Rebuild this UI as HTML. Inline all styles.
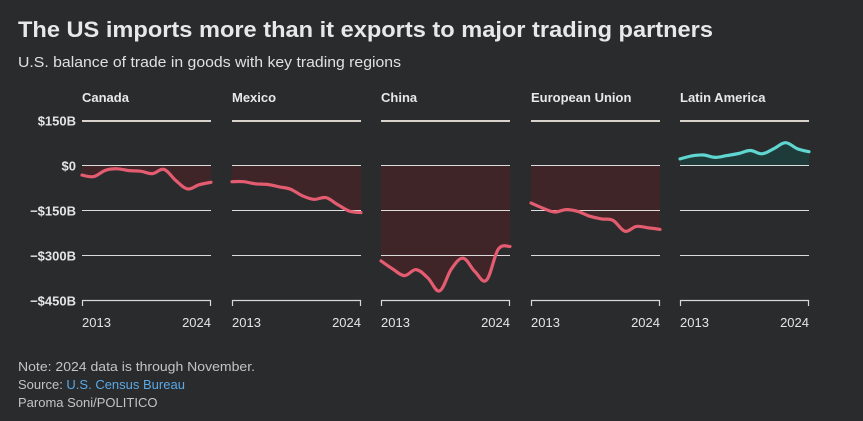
<!DOCTYPE html>
<html><head><meta charset="utf-8"><style>
html,body{margin:0;padding:0;background:#2a2b2d;}
svg{display:block;font-family:"Liberation Sans",sans-serif;}
</style></head><body>
<svg id="chart" width="863" height="421" viewBox="0 0 863 421" xmlns="http://www.w3.org/2000/svg">
<rect width="863" height="421" fill="#2a2b2d"/>
<text x="18" y="37" font-size="22" font-weight="bold" fill="#e8e8e8" textLength="695" lengthAdjust="spacingAndGlyphs">The US imports more than it exports to major trading partners</text>
<text x="18" y="67" font-size="15" fill="#e0e0e0" textLength="383" lengthAdjust="spacingAndGlyphs">U.S. balance of trade in goods with key trading regions</text>
<g id="panels"></g>
<text x="18" y="371" font-size="13" fill="#c4c4c4" textLength="237" lengthAdjust="spacingAndGlyphs">Note: 2024 data is through November.</text>
<text x="18" y="389" font-size="13" fill="#c4c4c4">Source: <tspan fill="#5aa9e6">U.S. Census Bureau</tspan></text>
<text x="18" y="407" font-size="13" fill="#c4c4c4">Paroma Soni/POLITICO</text>
</svg>
<script>
const years = [2013,2014,2015,2016,2017,2018,2019,2020,2021,2022,2023,2024];
const regions = ["Canada","Mexico","China","European Union","Latin America"];
const canada = [-32,-37,-16,-11,-17,-19,-27,-13,-50,-78,-64,-56];
const mexico = [-54,-54,-61,-63,-71,-79,-101,-113,-107,-130,-152,-157];
const china = [-318,-345,-367,-347,-375,-418,-345,-309,-353,-382,-279,-270];
const eu = [-125,-142,-155,-147,-153,-169,-178,-183,-219,-203,-208,-213];
const latam = [22,32,35,27,33,40,50,39,56,76,56,46];
const seriesList = [canada,mexico,china,eu,latam];
const yTicks = [150,0,-150,-300,-450];
const yTickLabels = ["$150B","$0","\u2212$150B","\u2212$300B","\u2212$450B"];

const NS="http://www.w3.org/2000/svg";
const g=document.getElementById('panels');
const panelX=[82,232,381,531,680], panelW=129;
const yScale=v=>165.5-(v)*0.3;
function mk(tag,attrs){const e=document.createElementNS(NS,tag);for(const k in attrs)e.setAttribute(k,attrs[k]);return e;}
function smooth(pts){
  let d='M'+pts[0][0].toFixed(1)+','+pts[0][1].toFixed(1);
  for(let i=0;i<pts.length-1;i++){
    const p0=pts[Math.max(0,i-1)],p1=pts[i],p2=pts[i+1],p3=pts[Math.min(pts.length-1,i+2)];
    const t=0.18;
    const c1=[p1[0]+(p2[0]-p0[0])*t,p1[1]+(p2[1]-p0[1])*t];
    const c2=[p2[0]-(p3[0]-p1[0])*t,p2[1]-(p3[1]-p1[1])*t];
    d+=` C${c1[0].toFixed(1)},${c1[1].toFixed(1)} ${c2[0].toFixed(1)},${c2[1].toFixed(1)} ${p2[0].toFixed(1)},${p2[1].toFixed(1)}`;
  }
  return d;
}
yTicks.forEach((t,i)=>{
  const tx=mk('text',{x:76,y:yScale(t)+5,'font-size':13,'font-weight':'bold','text-anchor':'end',fill:'#e4e4e4'});
  
  
  tx.textContent=yTickLabels[i];g.appendChild(tx);
});
regions.forEach((r,pi)=>{
  const x0=panelX[pi], x1=x0+panelW;
  const xs=i=>x0+(years[i]-years[0])/(years[years.length-1]-years[0])*panelW;
  const pg=mk('g',{});
  
  
  g.appendChild(pg);
  const title=mk('text',{x:x0,y:102,'font-size':13,'font-weight':'bold',fill:'#e8e8e8'});
  
  
  title.textContent=r;pg.appendChild(title);
  const data=seriesList[pi];
  const pos=r==="Latin America";
  const pts=data.map((v,i)=>[xs(i),yScale(v)]);
  const ld=smooth(pts);
  const d=ld+` L${xs(data.length-1)},${yScale(0)} L${xs(0)},${yScale(0)} Z`;
  const area=mk('path',{d:d,fill:pos?'#1f3b39':'#3f2428'});
  
  
  pg.appendChild(area);
  yTicks.forEach((t,i)=>{
    if(i===yTicks.length-1)return;
    const yy=i===0?Math.round(yScale(t)):yScale(t);
    const ln=mk('line',{x1:x0,x2:x1,y1:yy,y2:yy,stroke:i===0?'#d8d4cc':'#dcdcdc','stroke-width':i===0?2:1});
    
    
    pg.appendChild(ln);
  });
  const ax=mk('path',{d:`M${x0+0.5},306 V300.5 H${x1-0.5} V306`,stroke:'#d8d8d8','stroke-width':1.2,fill:'none'});
  
  
  pg.appendChild(ax);
  const line=mk('path',{d:ld,fill:'none',stroke:pos?'#5fd6d0':'#e35c70','stroke-width':3.2,'stroke-linejoin':'round','stroke-linecap':'round'});
  
  
  pg.appendChild(line);
  const l1=mk('text',{x:x0,y:327,'font-size':13,fill:'#e4e4e4'});
  
  
  l1.textContent=years[0];pg.appendChild(l1);
  const l2=mk('text',{x:x1,y:327,'font-size':13,fill:'#e4e4e4','text-anchor':'end'});
  
  
  l2.textContent=years[years.length-1];pg.appendChild(l2);
});
</script>
</body></html>
